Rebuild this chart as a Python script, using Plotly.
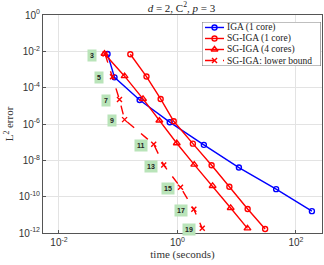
import math
import plotly.graph_objects as go

# Data
iga_t = [0.066, 0.0865, 0.23, 0.74, 2.79, 10.9, 46.3, 186.0]
iga_err = [7.1e-3, 3.7e-4, 2.1e-5, 1.26e-6, 7.1e-8, 4.0e-9, 2.6e-10, 1.6e-11]

sg1_t = [0.16, 0.30, 0.52, 0.865, 1.82, 3.77, 7.52, 15.3, 30.2]
sg1_err = [6.9e-3, 4.1e-4, 2.4e-5, 1.41e-6, 8.3e-8, 5.4e-9, 3.5e-10, 2.1e-11, 1.66e-12]

sg4_t = [0.0586, 0.128, 0.262, 0.495, 0.973, 1.92, 3.92, 7.91, 15.2]
sg4_err = [7.4e-3, 4.3e-4, 2.4e-5, 1.55e-6, 8.7e-8, 5.8e-9, 3.9e-10, 2.4e-11, 1.8e-12]

lb_t = [0.060, 0.080, 0.105, 0.128, 0.397, 0.586, 1.125, 1.89, 2.62]
lb_err = [7.1e-3, 4.0e-4, 2.2e-5, 1.74e-6, 7.6e-8, 5.5e-9, 3.3e-10, 2.0e-11, 1.8e-12]

levels = ["3", "5", "7", "9", "11", "13", "15", "17", "19"]

series_names = ["IGA (1 core)", "SG-IGA (1 core)", "SG-IGA (4 cores)", "SG-IGA: lower bound"]

y_tickvals = [1, 1e-2, 1e-4, 1e-6, 1e-8, 1e-10, 1e-12]
y_ticktext = ["10<sup>0</sup>", "10<sup>-2</sup>", "10<sup>-4</sup>", "10<sup>-6</sup>",
              "10<sup>-8</sup>", "10<sup>-10</sup>", "10<sup>-12</sup>"]
x_tickvals = [1e-2, 1, 1e2]
x_ticktext = ["10<sup>-2</sup>", "10<sup>0</sup>", "10<sup>2</sup>"]

BLUE = "#0000ff"
RED = "#ff0000"
SERIF = "Liberation Serif, DejaVu Serif, serif"
SANS = "Liberation Sans, Arial, sans-serif"

styles = [
    dict(color=BLUE, dash="solid", symbol="circle-open", size=5),
    dict(color=RED, dash="solid", symbol="circle-open", size=5),
    dict(color=RED, dash="solid", symbol="triangle-up-open", size=6),
    dict(color=RED, dash="dash", symbol="x-thin-open", size=5),
]
data = [(iga_t, iga_err), (sg1_t, sg1_err), (sg4_t, sg4_err), (lb_t, lb_err)]

fig = go.Figure()
for (xs, ys), name, st in zip(data, series_names, styles):
    fig.add_trace(go.Scatter(
        x=xs, y=ys, mode="lines+markers", name=name, showlegend=False,
        line=dict(color=st["color"], width=1.4, dash=st["dash"]),
        marker=dict(symbol=st["symbol"], size=st["size"], color=st["color"],
                    line=dict(width=1.4, color=st["color"]))))

# annotations on log axes take log10 coordinates
for t, e, lab in zip(lb_t, lb_err, levels):
    fig.add_annotation(
        x=math.log10(t), y=math.log10(e), xref="x", yref="y",
        text="<b>" + lab + "</b>", showarrow=False,
        xshift=-13, yshift=-1, bgcolor="#b9e4b9", borderpad=2,
        font=dict(family=SANS, size=7, color="#222222"))

# ---- compact legend drawn in an overlay subplot (x2/y2 in 0..1 units) ----
n = len(series_names)
fig.add_trace(go.Scatter(
    x=[0, 1, 1, 0, 0], y=[0, 0, 1, 1, 0], xaxis="x2", yaxis="y2",
    mode="lines", fill="toself", fillcolor="white",
    line=dict(color="#777777", width=1), hoverinfo="skip", showlegend=False))
for i, (name, st) in enumerate(zip(series_names, styles)):
    yy = (n - i - 0.5) / n
    fig.add_trace(go.Scatter(
        x=[0.025, 0.185], y=[yy, yy], xaxis="x2", yaxis="y2", mode="lines",
        line=dict(color=st["color"], width=1.4, dash=st["dash"]),
        hoverinfo="skip", showlegend=False))
    fig.add_trace(go.Scatter(
        x=[0.105], y=[yy], xaxis="x2", yaxis="y2", mode="markers",
        marker=dict(symbol=st["symbol"], size=st["size"], color=st["color"],
                    line=dict(width=1.4, color=st["color"])),
        hoverinfo="skip", showlegend=False))
    fig.add_annotation(x=0.195, y=yy, xref="x2", yref="y2", text=name,
                       showarrow=False, xanchor="left", yanchor="middle",
                       font=dict(family=SERIF, size=9.5, color="#222222"))

axis_common = dict(
    type="log", showgrid=True, gridcolor="#e3e3e3", gridwidth=1,
    showline=True, mirror=True, linecolor="#555555", linewidth=1,
    ticks="inside", ticklen=3, tickcolor="#555555",
    tickfont=dict(family=SANS, size=10, color="#333333"), zeroline=False)

fig.update_layout(
    xaxis=dict(range=[-2.27, 2.44], tickvals=x_tickvals, ticktext=x_ticktext,
               title=dict(text="time (seconds)",
                          font=dict(family=SERIF, size=11, color="#333333"), standoff=2),
               **axis_common),
    yaxis=dict(range=[-12, 0], tickvals=y_tickvals, ticktext=y_ticktext,
               title=dict(text="L<sup>2</sup> error",
                          font=dict(family=SERIF, size=11, color="#333333"), standoff=2),
               **axis_common),
    xaxis2=dict(domain=[0.570, 0.996], range=[0, 1], anchor="y2", visible=False,
                fixedrange=True),
    yaxis2=dict(domain=[0.766, 0.968], range=[0, 1], anchor="x2", visible=False,
                fixedrange=True),
    width=324, height=265,
    margin=dict(l=43, r=2, t=15, b=32),
    paper_bgcolor="white", plot_bgcolor="white",
    title=dict(text="<i>d</i> = 2, C<sup>2</sup>, <i>p</i> = 3",
               font=dict(family=SERIF, size=11, color="#222222"),
               x=0.56, xanchor="center", y=0.985, yanchor="top"),
    showlegend=False,
)

fig.write_html("out.html", config={"displayModeBar": False},
               post_script="document.body.style.margin='0';document.body.style.padding='0';")
